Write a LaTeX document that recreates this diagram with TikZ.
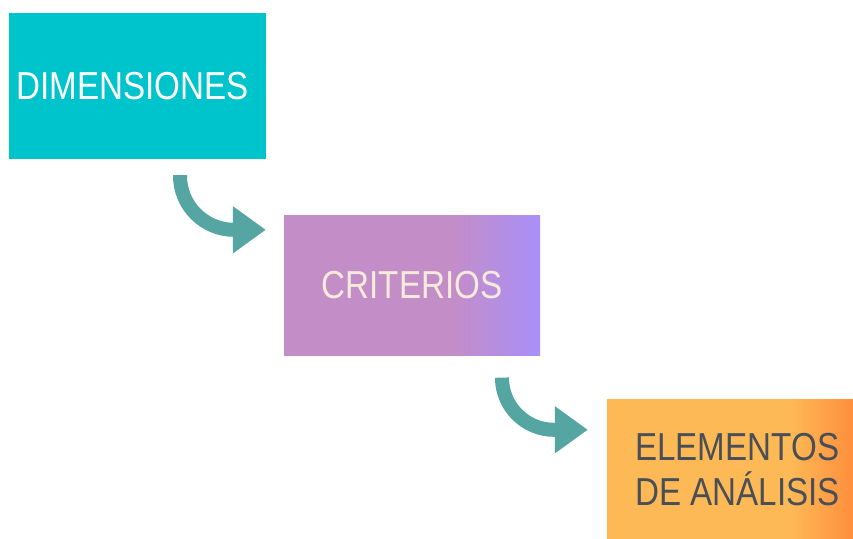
\documentclass[tikz,border=0pt]{standalone}
\usepackage{fontspec}
\setmainfont{Liberation Sans}[FakeStretch=0.85]
\usetikzlibrary{arrows.meta,calc}
\definecolor{tealbox}{HTML}{00C4CC}
\definecolor{purA}{HTML}{C38DC8}
\definecolor{purB}{HTML}{A98FF8}
\definecolor{orA}{HTML}{FDB955}
\definecolor{orB}{HTML}{FF8538}
\definecolor{arrowc}{HTML}{55A5A3}
\definecolor{cream}{HTML}{F6EADB}
\definecolor{darktxt}{HTML}{4A4F57}
\tikzset{
  box/.style={rectangle, inner sep=0pt, font=\fontsize{39}{45}\selectfont},
  flow/.style={arrowc, line width=14pt, -{Triangle[length=33pt,width=45pt]}},
  grad/.style n args={3}{path picture={%
    \foreach \i in {0,...,43}{%
      \pgfmathsetmacro\p{\i*100/43}%
      \pgfmathsetmacro\xa{-#1+#1*\i/44}%
      \pgfmathsetmacro\xb{-#1+#1*(\i+1)/44+0.6}%
      \fill[#3!\p!#2] ([xshift=\xa pt]path picture bounding box.north east)
        rectangle ([xshift=\xb pt]path picture bounding box.south east);
    }}},
}
\begin{document}
\begin{tikzpicture}[x=1pt,y=-1pt]
\useasboundingbox (0,0) rectangle (853,538);
\fill[white] (0,0) rectangle (853,538);
\node[box, fill=tealbox, text=white, minimum width=257pt, minimum height=146pt]
  (b1) at (137.5,86) {\kern-10pt DIMENSIONES};
\node[box, fill=purA, text=cream, minimum width=256pt, minimum height=141pt,
  grad={88}{purA}{purB}]
  (b2) at (412,285.5) {CRITERIOS};
\node[box, fill=orA, text=darktxt, align=left, minimum width=261pt, minimum height=142pt,
  grad={78}{orA}{orB}]
  (b3) at (737.5,470) {ELEMENTOS\\DE ANÁLISIS};
\draw[flow, rounded corners=54pt] ($(b1.south)+(42.5,16)$) |- ($(b2.north west)+(-18,15)$);
\draw[flow, rounded corners=52pt] ($(b2.south)+(90,22)$) |- ($(b3.north west)+(-19,31)$);
\end{tikzpicture}
\end{document}
